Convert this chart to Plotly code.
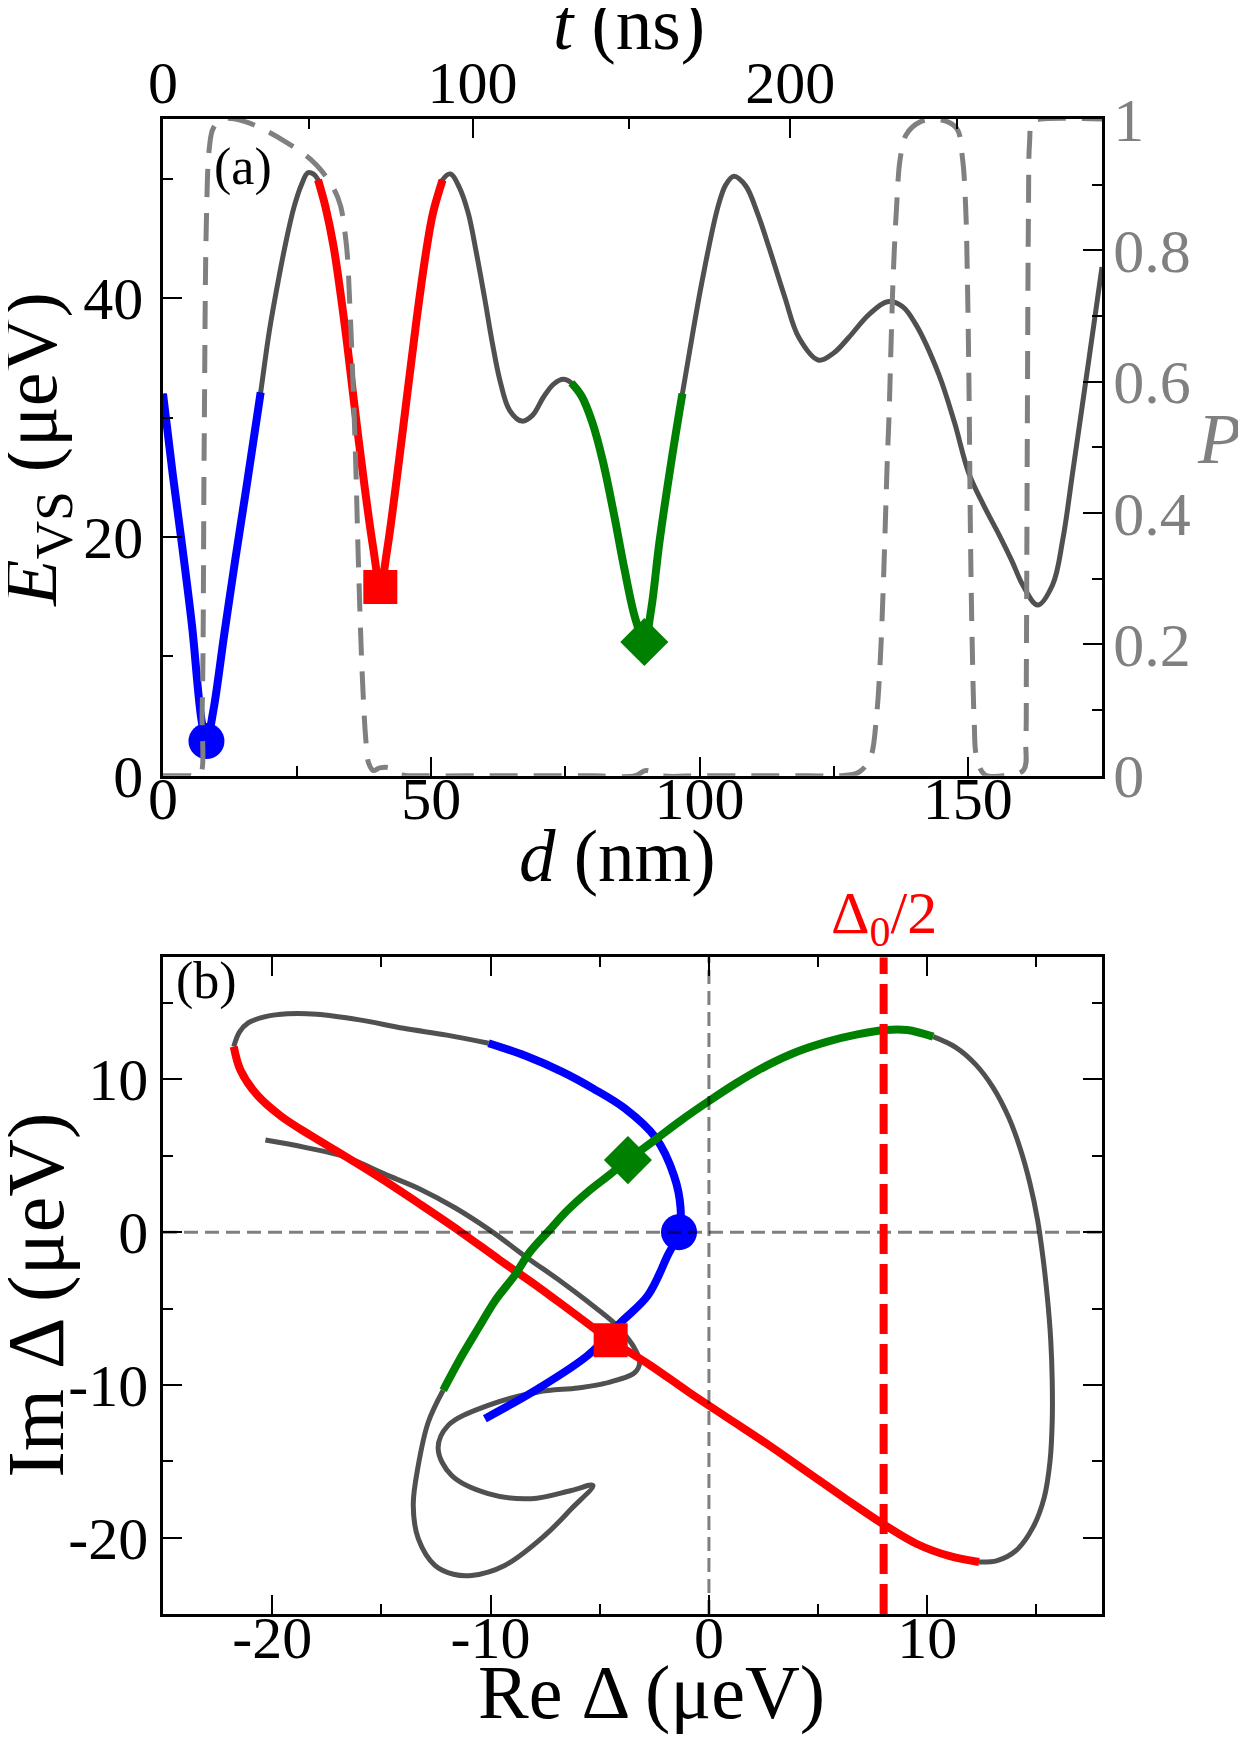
import plotly.graph_objects as go

# ---- panel (a) : energy splitting along the shuttle path ----
d_nm = [0.0, 1.8, 3.5, 5.4, 7.2, 8.1, 9.4, 11.4, 13.4, 15.8, 18.2,
        19.8, 21.5, 23.0, 24.4, 25.8, 27.0, 28.0, 28.9,
        30.3, 31.8, 34.0, 35.6, 37.4, 39.2, 40.5, 41.8, 43.6, 45.4, 47.2, 48.8, 50.3, 52.1,
        53.6, 55.2, 56.9, 58.4, 59.9, 61.4, 62.8, 64.6, 66.9, 68.9, 70.9, 72.8, 74.6, 76.1,
        78.0, 80.0, 82.0, 84.0, 86.0, 88.0, 89.7, 91.0, 92.5, 94.8, 96.8,
        98.7, 100.5, 103.4, 104.9, 106.4, 108.6, 110.8, 112.9, 115.8, 118.5, 122.2, 125.0,
        127.8, 131.5, 135.0, 137.8, 140.3, 144.6, 147.5, 150.2, 153.0, 155.8, 158.2, 160.2,
        163.0, 165.8, 167.7, 169.5, 172.6, 175.0]
e_vs = [32.0, 25.3, 19.5, 12.6, 4.6, 2.9, 5.5, 11.8, 17.9, 24.9, 32.1,
        37.2, 41.5, 44.9, 47.6, 49.5, 50.5, 50.4, 49.9,
        47.6, 44.3, 37.3, 31.3, 24.8, 19.0, 15.8, 19.0, 25.0, 31.5, 38.0, 43.2, 47.1, 49.9,
        50.4, 49.3, 47.1, 43.8, 40.1, 36.2, 33.1, 30.6, 29.7, 30.2, 31.7, 32.8, 33.2, 32.9,
        31.8, 29.6, 26.3, 22.0, 17.3, 13.2, 11.2, 14.0, 19.5, 26.5, 32.0,
        37.0, 41.5, 47.6, 49.5, 50.2, 49.4, 47.1, 44.3, 40.2, 36.7, 34.8, 35.4,
        36.7, 38.6, 39.7, 39.3, 37.8, 33.6, 29.6, 25.3, 22.6, 20.2, 18.0, 16.0,
        14.3, 16.0, 19.8, 25.3, 35.0, 42.6]

# d limits of the coloured pieces
blue_range = (0.0, 18.2)
red_range = (28.9, 52.1)
green_range = (76.1, 96.8)

# probability P (right axis, dashed)
p_d = [0.0, 5.0, 6.8, 7.3, 7.67, 8.1, 8.64, 9.37, 11.2, 15.3, 22.7, 28.6, 32.6, 34.1,
       34.8, 35.4, 35.9, 36.4, 37.1, 37.8, 38.3, 39.2, 40.4, 42.2, 44.1, 50.0, 60.0,
       70.0, 80.0, 88.0, 90.0, 93.0, 100.0, 110.0, 120.0, 126.0, 129.6, 131.8, 133.0,
       133.7, 134.2, 134.6, 135.0, 135.3, 135.7, 136.1, 136.7, 137.4, 138.5, 141.2,
       144.9, 147.9, 149.0, 149.6, 149.9, 150.2, 150.5, 150.8, 151.2, 151.6, 153.1,
       156.8, 160.4, 160.8, 160.9, 161.0, 161.1, 161.3, 161.5, 162.0, 163.5, 175.0]
p_val = [0.0, 0.0, 0.0, 0.1, 0.5, 0.85, 0.956, 0.986, 1.0, 0.996, 0.966, 0.93, 0.88, 0.814,
         0.72, 0.6, 0.48, 0.33, 0.16, 0.055, 0.02, 0.008, 0.012, 0.012, 0.002, 0.0, 0.0,
         0.0, 0.0, 0.0, 0.008, 0.0, 0.0, 0.0, 0.0, 0.0, 0.005, 0.027, 0.093,
         0.18, 0.28, 0.38, 0.484, 0.545, 0.661, 0.763, 0.864, 0.94, 0.976, 0.996,
         0.999, 0.986, 0.94, 0.864, 0.763, 0.6, 0.357, 0.205, 0.078, 0.03, 0.002,
         0.0, 0.009, 0.052, 0.154, 0.357, 0.56, 0.864, 0.964, 0.996, 1.0, 1.0]

# top axis: time labels and the d where they sit
t_labels = ["0", "100", "200"]
t_major_d = [0.0, 57.7, 116.9]
t_minor_d = [27.3, 86.8, 147.9]

# markers in (a)
circle_a = [8.1, 2.9]
square_a = [40.5, 15.8]
diamond_a = [89.7, 11.2]

# ---- panel (b) : complex Delta, pieces in path order ----
blue_re = [-10.26, -7.82, -5.54, -4.01, -2.79, -1.88, -1.37, -1.3, -1.6, -2.45, -3.85,
           -5.3, -6.74, -8.4, -10.09]
blue_im = [-12.21, -10.24, -8.06, -5.87, -4.13, -1.5, 0.0, 1.6, 3.7, 6.2, 8.1,
           9.4, 10.51, 11.55, 12.37]

gray1_re = [-10.09, -12.0, -13.98, -16.0, -17.96, -19.3, -20.31, -21.1, -21.5, -21.76]
gray1_im = [12.37, 12.9, 13.35, 13.9, 14.27, 14.3, 14.11, 13.7, 13.1, 12.15]

red_re = [-21.76, -21.45, -20.7, -19.6, -18.2, -16.69, -15.0, -13.2, -11.4, -9.6, -7.8,
          -6.1, -4.5, -2.7, -0.9, 0.9, 2.7, 4.5, 6.3, 8.07, 9.5, 11.0, 12.37]
red_im = [12.15, 10.6, 9.0, 7.6, 6.3, 5.0, 3.5, 1.8, 0.05, -1.8, -3.6,
          -5.4, -7.08, -8.7, -10.5, -12.2, -13.9, -15.7, -17.5, -19.2, -20.4, -21.2, -21.6]

gray2_re = [12.37, 13.2, 14.1, 14.85, 15.35, 15.62, 15.72, 15.72, 15.65, 15.5, 15.3,
            15.05, 14.7, 14.25, 13.7, 13.0, 12.2, 11.3, 10.27]
gray2_im = [-21.6, -21.5, -20.8, -19.3, -17.4, -15.0, -12.4, -9.7, -7.0, -4.3, -1.7,
            0.8, 3.2, 5.5, 7.6, 9.5, 11.0, 12.1, 12.8]

green_re = [10.27, 9.08, 8.07, 6.8, 5.43, 4.0, 2.69, 1.3, -0.05, -1.3, -2.48, -3.71, -4.6,
            -5.54, -6.5, -7.37, -8.2, -8.89, -9.8, -10.57, -11.4, -12.17]
green_im = [12.8, 13.24, 13.24, 12.95, 12.48, 11.8, 10.94, 9.8, 8.54, 7.3, 6.03, 4.72, 3.7,
            2.65, 1.4, 0.03, -1.3, -2.82, -4.5, -6.31, -8.3, -10.35]

gray3_re = [-12.17, -12.85, -13.31, -13.54, -13.31, -12.55, -11.7, -10.87, -9.35, -7.52,
            -6.3, -5.31, -6.3, -8.13, -10.11, -11.79, -12.4, -11.94, -10.11, -7.82, -6.0,
            -4.77, -3.4, -3.17, -3.4, -3.8, -4.31, -5.54, -6.9, -8.28, -10.0, -11.63,
            -13.2, -14.68, -16.69, -18.5, -20.31]
gray3_im = [-10.35, -12.43, -15.27, -17.89, -20.07, -21.82, -22.4, -22.48, -21.82, -19.86,
            -18.11, -16.58, -16.91, -17.45, -17.12, -15.92, -14.17, -12.65, -11.34, -10.46,
            -10.2, -9.9, -9.2, -8.5, -7.62, -6.8, -5.98, -4.56, -3.1, -1.72, 0.1, 1.6,
            2.8, 3.7, 4.94, 5.55, 6.03]

# markers in (b)
circle_b = [-1.37, 0.0]
square_b = [-4.5, -7.08]
diamond_b = [-3.71, 4.72]

delta0_half = 8.0

FONT = "Liberation Serif"
GRAY = "#505050"
PGRAY = "#808080"
COLORS = {"blue": "#0000ff", "red": "#ff0000", "green": "#008000"}


def piece(lo, hi):
    """points of the (a) curve between two d values"""
    pts = [(d, e) for d, e in zip(d_nm, e_vs) if lo <= d <= hi]
    return [p[0] for p in pts], [p[1] for p in pts]


def line(x, y, color, width, xa="x", ya="y", dash=None):
    return go.Scatter(x=x, y=y, mode="lines", xaxis=xa, yaxis=ya, showlegend=False,
                      hoverinfo="skip",
                      line=dict(color=color, width=width, shape="spline", smoothing=1.0,
                                dash=dash))


def marker(pt, symbol, color, size, xa="x", ya="y"):
    return go.Scatter(x=[pt[0]], y=[pt[1]], mode="markers", xaxis=xa, yaxis=ya,
                      showlegend=False,
                      marker=dict(symbol=symbol, color=color, size=size, line=dict(width=0)))


fig = go.Figure()

# (a)
fig.add_trace(line(d_nm, e_vs, GRAY, 5))
for name, rng in (("blue", blue_range), ("red", red_range), ("green", green_range)):
    x, y = piece(*rng)
    fig.add_trace(line(x, y, COLORS[name], 8))
fig.add_trace(marker(circle_a, "circle", COLORS["blue"], 36))
fig.add_trace(marker(square_a, "square", COLORS["red"], 34))
fig.add_trace(marker(diamond_a, "diamond", COLORS["green"], 37))
# P lives on the top/right pair of axes
fig.add_trace(line(p_d, p_val, PGRAY, 5, xa="x2", ya="y2", dash="28px,16px"))

# (b)
for x, y in ((gray1_re, gray1_im), (gray2_re, gray2_im), (gray3_re, gray3_im)):
    fig.add_trace(line(x, y, GRAY, 5, "x3", "y3"))
fig.add_trace(line(blue_re, blue_im, COLORS["blue"], 8, "x3", "y3"))
fig.add_trace(line(red_re, red_im, COLORS["red"], 8, "x3", "y3"))
fig.add_trace(line(green_re, green_im, COLORS["green"], 8, "x3", "y3"))
fig.add_trace(marker(circle_b, "circle", COLORS["blue"], 36, "x3", "y3"))
fig.add_trace(marker(square_b, "square", COLORS["red"], 34, "x3", "y3"))
fig.add_trace(marker(diamond_b, "diamond", COLORS["green"], 37, "x3", "y3"))

tickfont = dict(family=FONT, size=60, color="black")
common = dict(showline=True, linecolor="black", linewidth=2.5, ticks="inside",
              ticklen=19, tickwidth=2, tickcolor="black", showgrid=False,
              zeroline=False, tickfont=tickfont)
minor = dict(ticks="inside", ticklen=10, tickwidth=2, tickcolor="black", showgrid=False)

b_ticks = [-20, -10, 0, 10]

fig.update_layout(
    width=1246, height=1741, autosize=False,
    paper_bgcolor="white", plot_bgcolor="white",
    margin=dict(l=155, r=152, t=111, b=135),
    xaxis=dict(common, domain=[0, 1], anchor="y", range=[0, 175], tickvals=[0, 50, 100, 150],
               ticklabelstandoff=-32, minor=dict(minor, dtick=25)),
    xaxis2=dict(common, overlaying="x", anchor="y2", side="top", range=[0, 175],
                tickmode="array", tickvals=t_major_d, ticktext=t_labels,
                ticklabelstandoff=-11,
                minor=dict(minor, tickmode="array", tickvals=t_minor_d)),
    yaxis=dict(common, domain=[0.5607, 1], anchor="x", range=[0, 55], dtick=20,
               ticklabelstandoff=5, minor=dict(minor, dtick=10)),
    yaxis2=dict(common, overlaying="y", anchor="x2", side="right", range=[0, 1], dtick=0.2,
                tickfont=dict(family=FONT, size=62, color=PGRAY), ticklabelstandoff=-4,
                minor=dict(minor, dtick=0.1)),
    xaxis3=dict(common, domain=[0, 1], anchor="y3", range=[-25, 18], mirror="ticks",
                tickmode="array", tickvals=b_ticks, ticktext=[str(v) for v in b_ticks],
                ticklabelstandoff=-31,
                minor=dict(minor, tickmode="linear", tick0=0, dtick=5)),
    yaxis3=dict(common, domain=[0, 0.4393], anchor="x3", range=[-25, 18], mirror="ticks",
                tickmode="array", tickvals=b_ticks, ticktext=[str(v) for v in b_ticks],
                minor=dict(minor, tickmode="linear", tick0=0, dtick=5)),
)

# reference lines in (b)
gline = dict(color="rgba(0,0,0,0.5)", width=3, dash="14px,7px")
fig.add_shape(type="line", xref="x3", yref="y3", x0=-25, x1=18, y0=0, y1=0, line=gline,
              layer="above")
fig.add_shape(type="line", xref="x3", yref="y3", x0=0, x1=0, y0=-25, y1=18, line=gline,
              layer="above")
fig.add_shape(type="line", xref="x3", yref="y3", x0=delta0_half, x1=delta0_half, y0=-25,
              y1=18, line=dict(color="#ff0000", width=8, dash="30px,10px"), layer="above")


def note(text, x, y, size, xref="paper", yref="paper", color="black", angle=0,
         xanchor="center", yanchor="middle"):
    fig.add_annotation(text=text, x=x, y=y, xref=xref, yref=yref, showarrow=False,
                       textangle=angle, xanchor=xanchor, yanchor=yanchor,
                       font=dict(family=FONT, size=size, color=color))


note("<i>t</i> (ns)", 0.496, 1.0635, 73)
note("<i>d</i> (nm)", 0.484, 0.5064, 73)
note("<i>E</i><sub>VS</sub> (μeV)", -0.135, 0.779, 76, angle=-90)
note("<i>P</i>", 1.125, 0.513, 72, yref="y2", color=PGRAY)
note("(a)", 9.1, 50.95, 52, xref="x", yref="y", xanchor="left")
note("(b)", -24.5, 16.47, 52, xref="x3", yref="y3", xanchor="left")
note("Δ<sub>0</sub>/2", delta0_half, 0.4656, 60, xref="x3", color="#ff0000")
note("Im Δ (μeV)", -0.135, 0.213, 80, angle=-90)
note("Re Δ (μeV)", 0.52, -0.0528, 76)

fig.write_html("out.html")
